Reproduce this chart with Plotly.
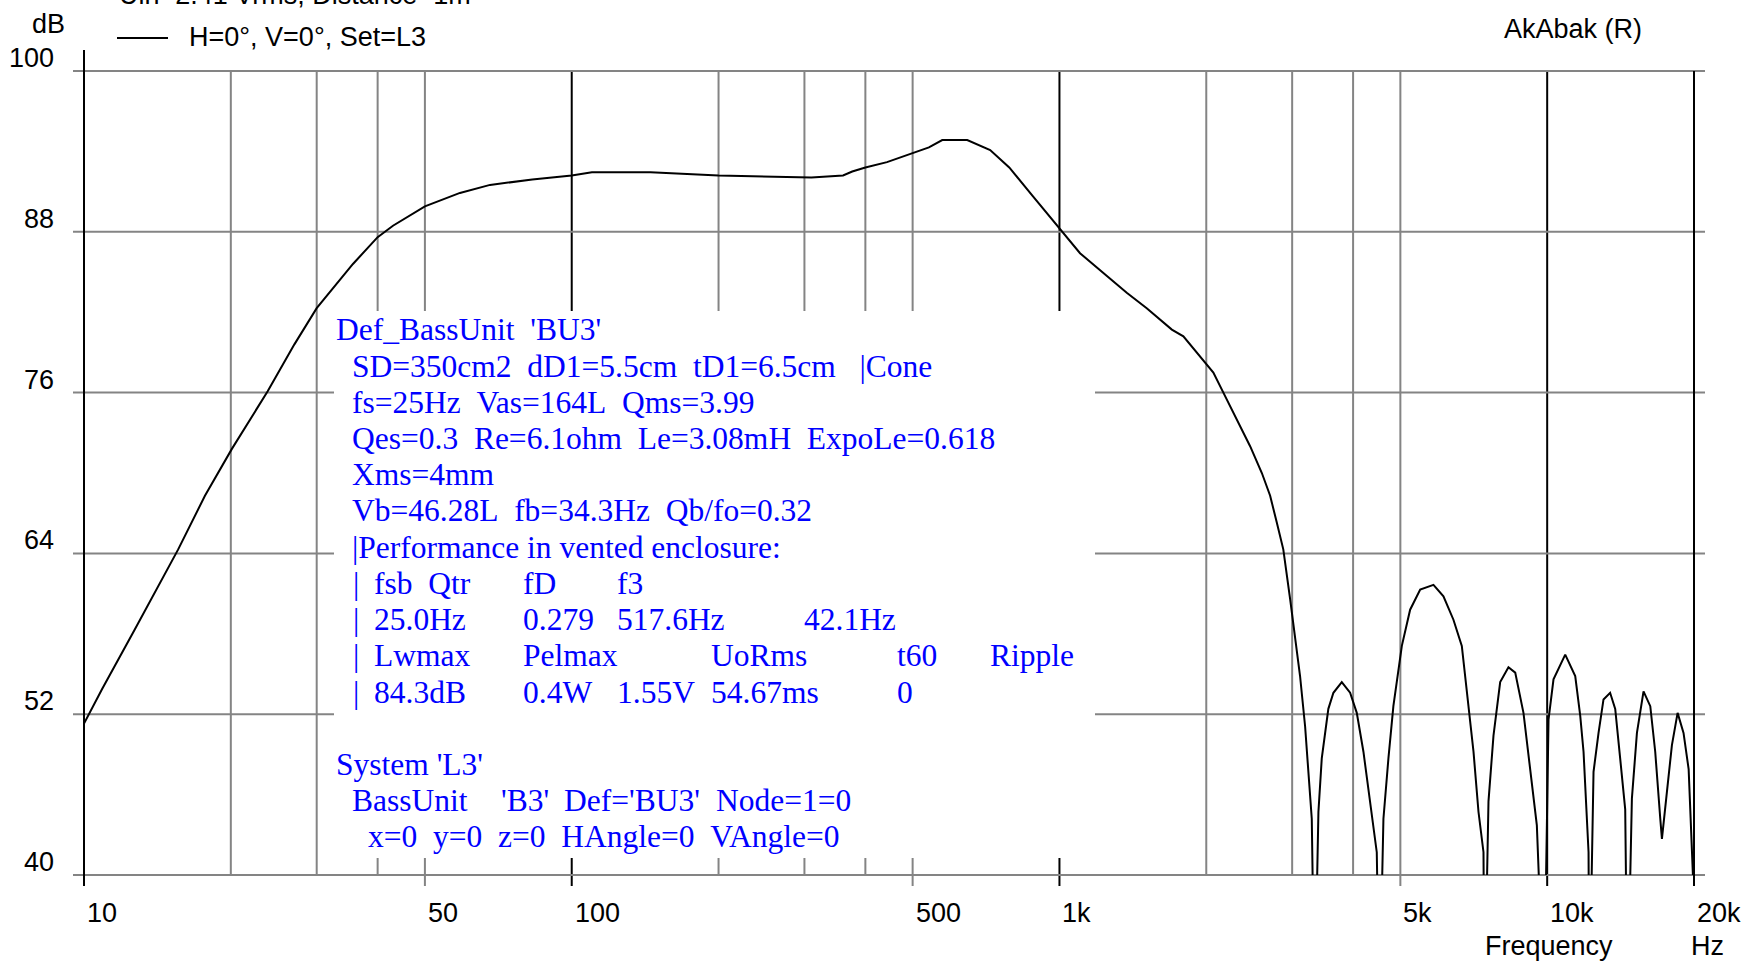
import math
import plotly.graph_objects as go

# ---------------- data ----------------
freq_hz = [10, 10.9, 12.7, 15.6, 17.7, 20.1, 23.8, 27.0, 30, 35.6, 40, 43, 50, 59, 68, 83,
           100, 110, 145, 200, 310, 360, 376, 400, 443, 500, 540, 575, 647, 721, 789, 880,
           1000, 1102, 1260, 1374, 1510, 1700, 1795, 1973, 2068, 2168, 2310, 2460, 2600,
           2704, 2790, 2877, 2971, 3114, 3189, 3291, 3335, 3396, 3450, 3559, 3645, 3792,
           3944, 4070, 4200, 4335, 4473, 4529, 4616, 4726, 4838, 5035, 5236, 5491, 5846,
           6128, 6424, 6683, 6897, 7062, 7231, 7403, 7440, 7580, 7761, 8010, 8329, 8600,
           8941, 9227, 9524, 9850, 10064, 10303, 10889, 11416, 11688, 11873, 12157, 12200,
           12446, 12744, 13046, 13460, 13788, 14114, 14454, 14608, 14917, 15276, 15760,
           16270, 16654, 17056, 17190, 17600, 18020, 18510, 19035, 19500, 19806, 20000]
spl_db = [51.3, 53.9, 58.3, 64.3, 68.3, 71.8, 76.1, 79.6, 82.3, 85.6, 87.6, 88.45, 89.9, 90.9, 91.5, 91.9,
          92.2, 92.45, 92.45, 92.2, 92.05, 92.2, 92.5, 92.8, 93.2, 93.9, 94.3, 94.85, 94.85, 94.1, 92.8, 90.7,
          88.3, 86.4, 84.6, 83.45, 82.3, 80.7, 80.2, 78.35, 77.5, 76.0, 74.0, 72.0, 70.0,
          68.3, 66.3, 64.3, 60.6, 54.85, 51.1, 44.2, 30.0, 44.7, 48.7, 52.4, 53.6, 54.4,
          53.6, 52.1, 49.2, 45.5, 41.7, 30.0, 44.2, 48.7, 52.6, 57.1, 59.8, 61.3, 61.65,
          60.8, 59.05, 57.1, 52.6, 49.2, 44.7, 41.7, 30.0, 45.5, 50.4, 54.4, 55.5, 55.1,
          52.1, 47.7, 43.7, 30.0, 51.6, 54.6, 56.45, 54.85, 51.9, 49.2, 41.7, 30.0,
          47.7, 50.6, 53.1, 53.6, 52.4, 48.7, 44.9, 30.0, 45.7, 50.6, 53.7,
          52.6, 49.2, 44.2, 42.7, 46.2, 49.7, 52.1, 50.6, 47.9, 41.7, 38.0]

x_tick_vals = [10, 50, 100, 500, 1000, 5000, 10000, 20000]
x_tick_text = ["10", "50", "100", "500", "1k", "5k", "10k", "20k"]
y_tick_vals = [100, 88, 76, 64, 52, 40]
y_tick_text = ["100", "88", "76", "64", "52", "40"]
x_grid_grey = [20, 30, 40, 50, 200, 300, 400, 500, 2000, 3000, 4000, 5000]
x_grid_black = [100, 1000, 10000]
y_grid_inner = [88, 76, 64, 52]

title_text = "Uin=2.41 Vrms, Distance=1m"
legend_text = "H=0°, V=0°, Set=L3"
brand_text = "AkAbak (R)"

box_lines = [
    (0, [(334, "Def_BassUnit  'BU3'")]),
    (1, [(350, "SD=350cm2  dD1=5.5cm  tD1=6.5cm   |Cone")]),
    (2, [(350, "fs=25Hz  Vas=164L  Qms=3.99")]),
    (3, [(350, "Qes=0.3  Re=6.1ohm  Le=3.08mH  ExpoLe=0.618")]),
    (4, [(350, "Xms=4mm")]),
    (5, [(350, "Vb=46.28L  fb=34.3Hz  Qb/fo=0.32")]),
    (6, [(350, "|Performance in vented enclosure:")]),
    (7, [(351, "|"), (372, "fsb  Qtr"), (521, "fD"), (615, "f3")]),
    (8, [(351, "|"), (372, "25.0Hz"), (521, "0.279"), (615, "517.6Hz"), (802, "42.1Hz")]),
    (9, [(351, "|"), (372, "Lwmax"), (521, "Pelmax"), (709, "UoRms"), (895, "t60"), (988, "Ripple")]),
    (10, [(351, "|"), (372, "84.3dB"), (521, "0.4W"), (615, "1.55V"), (709, "54.67ms"), (895, "0")]),
    (12, [(334, "System 'L3'")]),
    (13, [(350, "BassUnit"), (499, "'B3'"), (562, "Def='BU3'"), (714, "Node=1=0")]),
    (14, [(366, "x=0  y=0  z=0  HAngle=0  VAngle=0")]),
]

# ---------------- layout geometry ----------------
W, H = 1753, 962
ML, MR, MT, MB = 84, 59, 71, 87
PW, PH = W - ML - MR, H - MT - MB


def pxx(X):
    return (X - ML) / PW


def pxy(Y):
    return (H - MB - Y) / PH


GREY = "#848484"
BLACK = "#000000"
SANS = "Liberation Sans, Arial, sans-serif"
SERIF = "Liberation Serif, Times New Roman, serif"
TICK = 11

fig = go.Figure()
fig.add_trace(go.Scatter(x=freq_hz, y=spl_db, mode="lines",
                         line=dict(color="black", width=2), showlegend=False,
                         hoverinfo="skip"))

shapes = []
# vertical gridlines
for f in x_grid_grey:
    y0 = -TICK / PH if f in x_tick_vals else 0
    shapes.append(dict(type="line", xref="x", yref="paper", x0=f, x1=f, y0=y0, y1=1,
                       line=dict(color=GREY, width=2), layer="below"))
for f in x_grid_black:
    shapes.append(dict(type="line", xref="x", yref="paper", x0=f, x1=f, y0=-TICK / PH, y1=1,
                       line=dict(color=BLACK, width=2), layer="below"))
# horizontal gridlines
for v in y_grid_inner:
    shapes.append(dict(type="line", xref="paper", yref="y", x0=-TICK / PW, x1=1 + TICK / PW,
                       y0=v, y1=v, line=dict(color=GREY, width=2), layer="below"))
for yp in (0, 1):
    shapes.append(dict(type="line", xref="paper", yref="paper", x0=-TICK / PW, x1=1 + TICK / PW,
                       y0=yp, y1=yp, line=dict(color=GREY, width=2), layer="below"))
# left axis (10 Hz) and right edge (20 kHz)
shapes.append(dict(type="line", xref="paper", yref="paper", x0=0, x1=0, y0=-TICK / PH,
                   y1=1 + 21 / PH, line=dict(color=BLACK, width=2), layer="below"))
shapes.append(dict(type="line", xref="paper", yref="paper", x0=1, x1=1, y0=-TICK / PH,
                   y1=1, line=dict(color=BLACK, width=2), layer="below"))
# white text box
shapes.append(dict(type="rect", xref="paper", yref="paper", x0=pxx(334), x1=pxx(1095),
                   y0=pxy(858), y1=pxy(311), fillcolor="white", line=dict(width=0),
                   layer="below"))
# legend sample line
shapes.append(dict(type="line", xref="paper", yref="paper", x0=pxx(117), x1=pxx(168),
                   y0=pxy(38), y1=pxy(38), line=dict(color=BLACK, width=2)))

ann = []
# x tick labels
for v, t in zip(x_tick_vals, x_tick_text):
    ann.append(dict(x=math.log10(v), xref="x", y=0, yref="paper", text=t, showarrow=False,
                    xanchor="left", yanchor="middle", xshift=1, yshift=-38,
                    font=dict(family=SANS, size=27, color="black")))
# y tick labels
for v, t in zip(y_tick_vals, y_tick_text):
    ann.append(dict(x=0, xref="paper", y=v, yref="y", text=t, showarrow=False,
                    xanchor="right", yanchor="middle", xshift=-28, yshift=13,
                    font=dict(family=SANS, size=27, color="black")))


def lab(X, Y, text, anchor="left", size=27):
    ann.append(dict(x=pxx(X), xref="paper", y=pxy(Y), yref="paper", text=text,
                    showarrow=False, xanchor=anchor, yanchor="middle",
                    font=dict(family=SANS, size=size, color="black")))


lab(30, 24, "dB")
lab(1483, 946, "Frequency")
lab(1689, 946, "Hz")
lab(1502, 29, brand_text)
lab(187, 37, legend_text)
lab(117, -5, title_text)

for i, segs in box_lines:
    yc = 330 + 36.2 * i
    for X, t in segs:
        ann.append(dict(x=pxx(X), xref="paper", y=pxy(yc), yref="paper",
                        text=t.replace(" ", "\u00a0"), showarrow=False,
                        xanchor="left", yanchor="middle",
                        font=dict(family=SERIF, size=31.5, color="#0000FF")))

fig.update_layout(
    width=W, height=H,
    margin=dict(l=ML, r=MR, t=MT, b=MB, pad=0),
    paper_bgcolor="white", plot_bgcolor="rgba(0,0,0,0)",
    xaxis=dict(type="log", range=[1, math.log10(20000)], showgrid=False, zeroline=False,
               showticklabels=False, ticks="", showline=False, fixedrange=True),
    yaxis=dict(range=[40, 100], showgrid=False, zeroline=False, showticklabels=False,
               ticks="", showline=False, fixedrange=True),
    shapes=shapes, annotations=ann, showlegend=False,
)

fig.write_html("out.html", config={"displayModeBar": False})
